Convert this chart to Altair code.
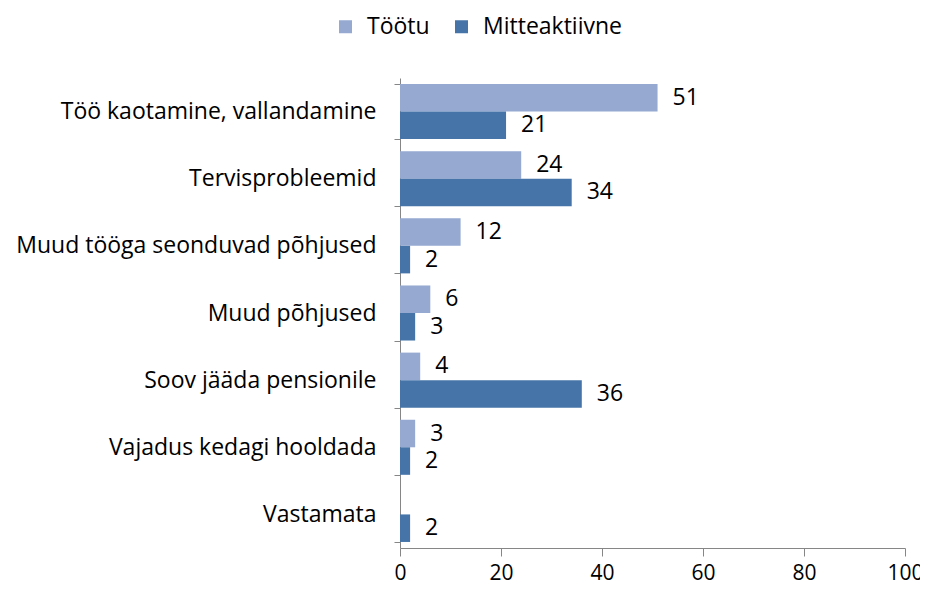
import altair as alt
import pandas as pd

categories = [
    "Töö kaotamine, vallandamine",
    "Tervisprobleemid",
    "Muud tööga seonduvad põhjused",
    "Muud põhjused",
    "Soov jääda pensionile",
    "Vajadus kedagi hooldada",
    "Vastamata",
]
tootu = [51, 24, 12, 6, 4, 3, 0]
mitteaktiivne = [21, 34, 2, 3, 36, 2, 2]
series = ["Töötu", "Mitteaktiivne"]
colors = ["#95A9D1", "#4674A9"]
x_ticks = [0, 20, 40, 60, 80, 100]

rows = []
for c, t, m in zip(categories, tootu, mitteaktiivne):
    rows.append({"cat": c, "series": series[0], "value": t, "label": str(t) if t > 0 else ""})
    rows.append({"cat": c, "series": series[1], "value": m, "label": str(m) if m > 0 else ""})
df = pd.DataFrame(rows)

FONT = "Open Sans"
FS = 23

y_enc = alt.Y(
    "cat:N",
    sort=categories,
    scale=alt.Scale(paddingInner=0.18, paddingOuter=0.09),
    axis=alt.Axis(
        title=None,
        tickBand="extent",
        tickSize=6,
        tickColor="#868686",
        domainColor="#868686",
        labelFontSize=FS,
        labelFont=FONT,
        labelColor="#000000",
        labelPadding=18,
        labelLimit=400,
    ),
)
yoff = alt.YOffset("series:N", sort=series, scale=alt.Scale(paddingInner=0, paddingOuter=0))
x_enc = alt.X(
    "value:Q",
    scale=alt.Scale(domain=[0, 100], nice=False),
    axis=alt.Axis(
        title=None,
        values=x_ticks,
        grid=False,
        tickSize=8,
        tickColor="#868686",
        domainColor="#868686",
        labelFontSize=21,
        labelFont=FONT,
        labelColor="#000000",
        labelPadding=6,
        labelFlush=False,
    ),
)

bars = alt.Chart(df).mark_bar().encode(
    y=y_enc,
    yOffset=yoff,
    x=x_enc,
    color=alt.Color(
        "series:N",
        sort=series,
        scale=alt.Scale(domain=series, range=colors),
        legend=alt.Legend(
            title=None,
            orient="none",
            direction="horizontal",
            legendX=-66,
            legendY=-63,
            symbolType="square",
            symbolSize=169,
            symbolStrokeWidth=0,
            labelFontSize=FS,
            labelFont=FONT,
            labelColor="#000000",
            labelOffset=10,
            columnPadding=20,
        ),
    ),
)

text = alt.Chart(df).transform_filter("datum.label != ''").mark_text(
    align="left", baseline="middle", dx=15, fontSize=FS, font=FONT, color="#000000"
).encode(
    y=alt.Y("cat:N", sort=categories),
    yOffset=alt.YOffset("series:N", sort=series),
    x=alt.X("value:Q"),
    text="label:N",
)

chart = (
    alt.layer(bars, text)
    .properties(
        width=505,
        height=470,
        autosize=alt.AutoSizeParams(type="none"),
        padding={"left": 392, "top": 70, "right": 15, "bottom": 41},
    )
    .configure_view(stroke=None)
)

chart.save("out.html", embed_options={"renderer": "svg", "actions": False})
